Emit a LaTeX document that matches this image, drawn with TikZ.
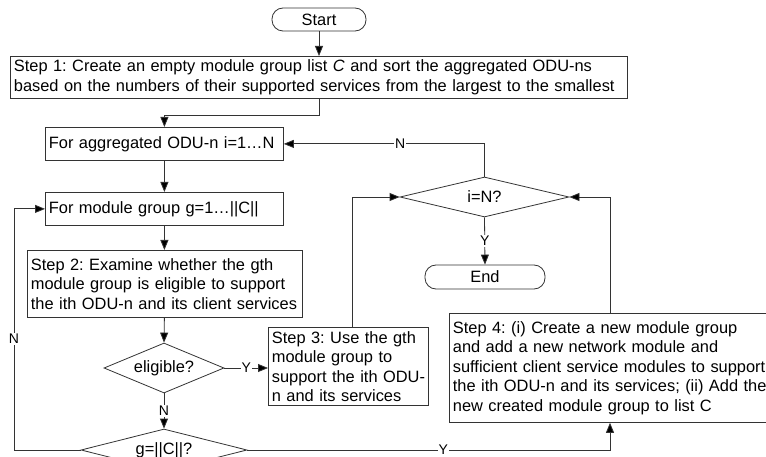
\documentclass[tikz,border=0pt]{standalone}
\usepackage{fontspec}
\setmainfont{Liberation Sans}
\usetikzlibrary{arrows.meta,shapes.geometric,calc}
\newcommand\ml[1]{\mbox{#1}}
\begin{document}
\begin{tikzpicture}[x=1pt,y=-1pt,
  every node/.style={font=\fontsize{16.4}{19.5}\selectfont\frenchspacing, text=black},
  box/.style={draw=black!80, line width=0.8pt, anchor=north west, align=left, inner xsep=3.5pt, inner ysep=0pt},
  term/.style={draw=black!80, line width=0.8pt, rounded corners=11pt, minimum height=23pt, inner sep=0pt},
  dec/.style={draw=black!80, line width=0.8pt, diamond, inner sep=0pt},
  arr/.style={draw=black!80, line width=0.8pt, -{Triangle[length=10pt,width=8pt,fill=black]}},
  lab/.style={fill=white, inner sep=1pt, font=\fontsize{14}{16}\selectfont}
]
\useasboundingbox (0,0) rectangle (766,457);
\clip (0,0) rectangle (766,457);

\node[term, minimum width=94pt] (start) at (319,19.5) {Start};
\node[box, text width=610pt, minimum height=42pt] (step1) at (10,56)
  {\ml{Step 1: Create an empty module group list \textit{C} and sort the aggregated ODU-ns}\\
   \ml{based on the numbers of their supported services from the largest to the smallest}};
\node[box, text width=231pt, minimum height=33pt] (agg) at (45,127) {\ml{For aggregated ODU-n i=1…N}};
\node[box, text width=231pt, minimum height=33pt] (mod) at (45,192) {\ml{For module group g=1…||C||}};
\node[box, text width=268pt, minimum height=67pt] (step2) at (27,250)
  {\ml{Step 2: Examine whether the gth}\\ \ml{module group is eligible to support}\\ \ml{the ith ODU-n and its client services}};
\node[dec, aspect=2.4, minimum width=120pt, minimum height=50pt] (elig) at (164,368) {eligible?};
\node[box, text width=153pt, minimum height=78pt] (step3) at (268,327)
  {\ml{Step 3: Use the gth}\\ \ml{module group to}\\ \ml{support the ith ODU-}\\ \ml{n and its services}};
\node[dec, aspect=4.2, minimum width=169pt, minimum height=40pt] (iN) at (484.5,197) {i=N?};
\node[term, minimum width=120pt, minimum height=24pt] (end) at (485,277) {End};
\node[box, text width=340pt, minimum height=109pt] (step4) at (449,313)
  {\ml{Step 4: (i) Create a new module group}\\ \ml{and add a new network module and}\\ \ml{sufficient client service modules to support}\\ \ml{the ith ODU-n and its services; (ii) Add the}\\ \ml{new created module group to list C}};
\node[dec, aspect=4, minimum width=166pt, minimum height=42pt] (gC) at (164,450) {g=||C||?};

\coordinate (j1) at (319,115);
\coordinate (lp) at (14,450);
\coordinate (r3) at (352,0);
\coordinate (r4) at (610,0);

\draw[arr] (start.south) -- (start.south |- step1.north);
\draw[arr] (step1.south -| start.south) -- (j1) -| (agg.north);
\draw[arr] (agg.south) -- (agg.south |- mod.north);
\draw[arr] (mod.south) -- (mod.south |- step2.north);
\draw[arr] (step2.south -| mod.south) -- (elig.north);
\draw[arr] (elig.east) -- node[lab]{Y} (step3.west |- elig.east);
\draw[arr] (elig.south) -- node[lab]{N} (gC.north);
\draw[arr] (gC.west) -- (lp) -- node[lab, pos=0.46]{N} (lp |- mod.west) -- (mod.west);
\draw[arr] (gC.east) -- node[lab, pos=0.54]{Y} (gC.east -| r4) -- (step4.south -| r4);
\draw[arr] (step3.north -| r3) |- (iN.west);
\draw[arr] (step4.north -| r4) |- (iN.east);
\draw[arr] (iN.north) |- node[lab, pos=0.71]{N} (agg.east);
\draw[arr] (iN.south) -- node[lab]{Y} (end.north);
\end{tikzpicture}
\end{document}
